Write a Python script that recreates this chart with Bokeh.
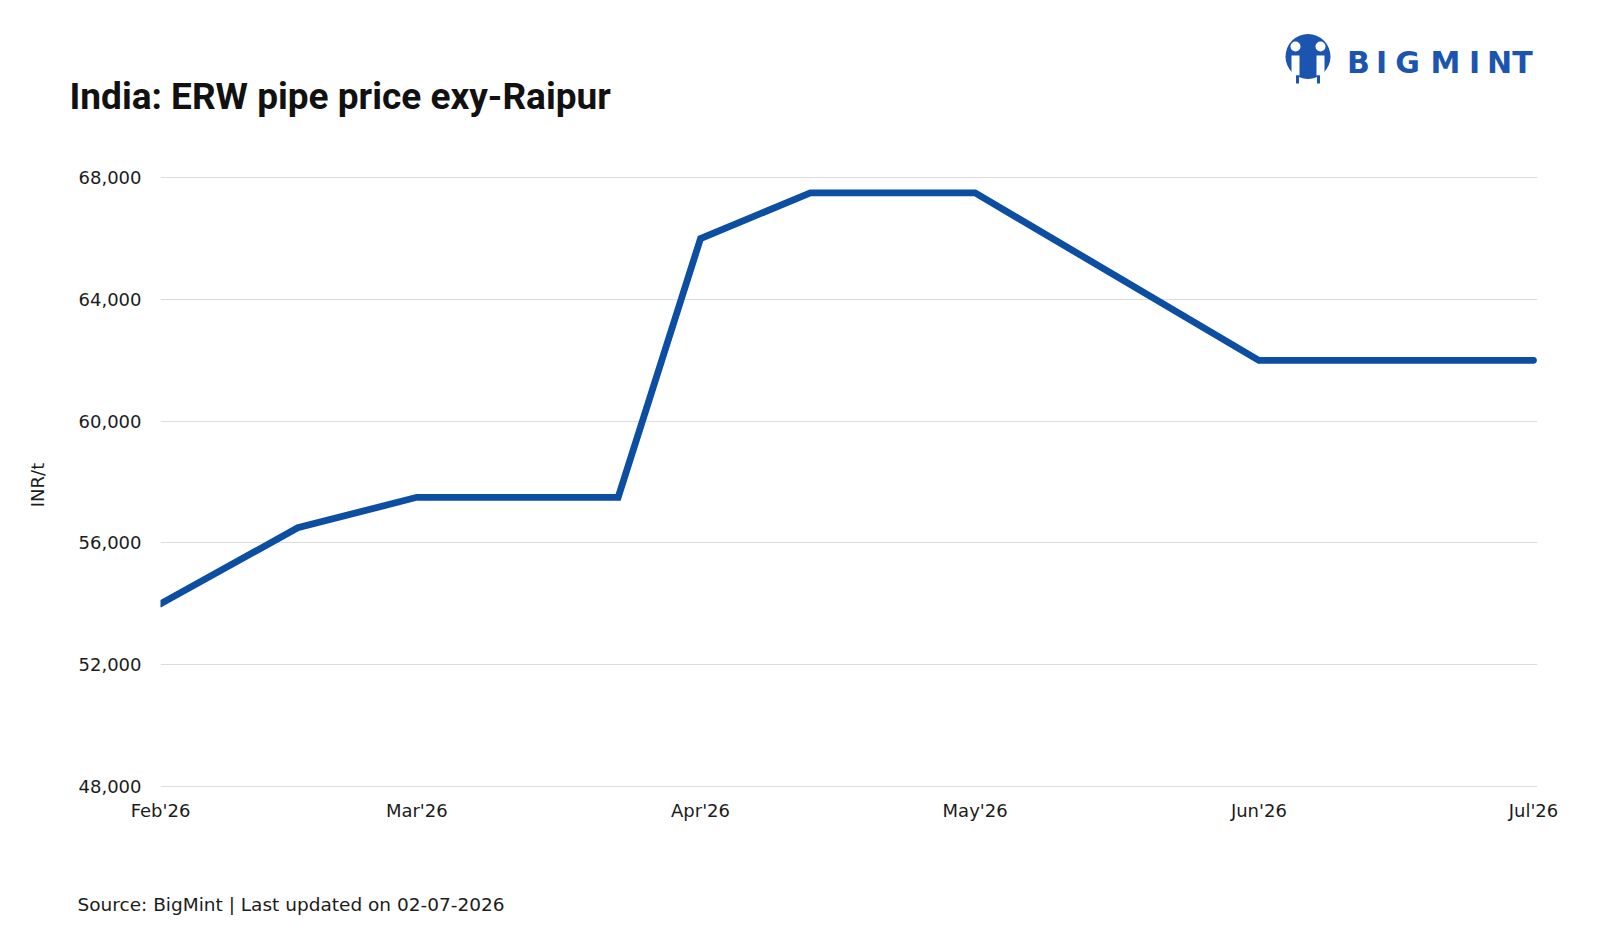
import pandas as pd
from bokeh.plotting import figure
from bokeh.layouts import column
from bokeh.models import FixedTicker, NumeralTickFormatter, Range1d
from bokeh.core.properties import value
from bokeh.embed import file_html
from bokeh.resources import INLINE

# Weekly ERW pipe assessments, ex-Raipur (INR/t)
dates = ["2026-02-01", "2026-02-16", "2026-03-01", "2026-03-23", "2026-04-01",
         "2026-04-13", "2026-05-01", "2026-06-01", "2026-07-01"]
prices = [54000, 56500, 57500, 57500, 66000, 67500, 67500, 62000, 62000]

tick_dates = ["2026-02-01", "2026-03-01", "2026-04-01", "2026-05-01", "2026-06-01", "2026-07-01"]
tick_labels = ["Feb'26", "Mar'26", "Apr'26", "May'26", "Jun'26", "Jul'26"]
y_ticks = [48000, 52000, 56000, 60000, 64000, 68000]

title_text = "India: ERW pipe price exy-Raipur"
source_text = "Source: BigMint | Last updated on 02-07-2026"
y_label = "INR/t"
brand = list("BIGMINT")

LINE_BLUE = "#0b4ea2"
LOGO_BLUE = "#1b55b0"
TEXT = "#1c1c1c"
SMALL_FONT = "DejaVu Sans"
W = 1600
HEADER_H, MAIN_H, FOOTER_H = 165, 705, 68
FRAME_H = 639  # plot frame runs a little below the 48,000 gridline


def ms(d):
    return pd.Timestamp(d).value // 10**6


def strip(h, top):
    """A borderless figure whose data units are canvas pixels (y grows downward)."""
    f = figure(width=W, height=h, x_range=Range1d(0, W), y_range=Range1d(top + h, top),
               x_axis_location=None, y_axis_location=None, min_border=0,
               toolbar_location=None, output_backend="svg", frame_align=False)
    f.grid.visible = False
    f.outline_line_color = None
    f.background_fill_color = "white"
    f.border_fill_color = "white"
    return f


# ---- header: title and brand mark ----
head = strip(HEADER_H, 0)
head.text(x=[69], y=[95.5], text=[title_text], text_font=value("Roboto"),
          text_font_style="bold", text_font_size="37px", text_color="#111111",
          text_baseline="middle")
head.circle(x=[1307.5], y=[56], radius=22.5, fill_color=LOGO_BLUE, line_color=None)
head.circle(x=[1295, 1320], y=[46, 46], radius=5, fill_color="white", line_color=None)
head.rect(x=[1295, 1320], y=[65, 65], width=8, height=20, fill_color="white", line_color=None)
head.rect(x=[1297, 1318], y=[79, 79], width=3, height=8, fill_color=LOGO_BLUE, line_color=None)
head.text(x=[1358, 1381, 1407, 1445, 1474, 1499, 1522], y=[61.5] * 7, text=brand,
          text_font=value("DejaVu Sans"), text_font_style="bold", text_font_size="30px",
          text_color=LOGO_BLUE, text_align="center", text_baseline="middle")

# ---- main price chart ----
x = pd.to_datetime(dates)
DAY = 86400000
p = figure(width=W, height=MAIN_H, x_axis_type="datetime",
           x_range=Range1d(ms(tick_dates[0]), ms(tick_dates[-1]) + 0.44 * DAY),
           y_range=Range1d(47409, 68400),
           min_border_left=160, min_border_right=63,
           min_border_top=0, min_border_bottom=MAIN_H - FRAME_H,
           toolbar_location=None, output_backend="svg", title=None, frame_align=False)
p.outline_line_color = None
p.background_fill_color = "white"
p.border_fill_color = "white"

tick_ms = [ms(d) for d in tick_dates]
p.xaxis.ticker = FixedTicker(ticks=tick_ms)
p.xaxis.major_label_overrides = {float(t): lab for t, lab in zip(tick_ms, tick_labels)}
p.yaxis.ticker = FixedTicker(ticks=y_ticks)
p.yaxis.formatter = NumeralTickFormatter(format="0,0")
for ax in (p.xaxis, p.yaxis):
    ax.axis_line_color = None
    ax.major_tick_line_color = None
    ax.minor_tick_line_color = None
    ax.major_tick_out = 0
    ax.major_tick_in = 0
    ax.minor_tick_out = 0
    ax.major_label_text_font = SMALL_FONT
    ax.major_label_text_font_size = "18px"
    ax.major_label_text_color = TEXT
p.yaxis.major_label_standoff = 19
p.xaxis.major_label_standoff = -5
p.yaxis.axis_label = y_label
p.yaxis.axis_label_text_font = SMALL_FONT
p.yaxis.axis_label_text_font_size = "18px"
p.yaxis.axis_label_text_font_style = "normal"
p.yaxis.axis_label_text_color = TEXT
p.yaxis.axis_label_standoff = 28

p.xgrid.grid_line_color = None
p.ygrid.grid_line_color = "#dcdcdc"
p.ygrid.grid_line_width = 1

p.line(x=x, y=prices, line_width=6.8, line_color=LINE_BLUE,
       line_cap="round", line_join="miter")

# ---- footer: source note ----
foot = strip(FOOTER_H, HEADER_H + MAIN_H)
foot.text(x=[77], y=[904], text=[source_text], text_font=value(SMALL_FONT),
          text_font_size="18.5px", text_color=TEXT, text_baseline="middle")

page = column(head, p, foot, spacing=0)
open("out.html", "w").write(file_html(page, INLINE))
